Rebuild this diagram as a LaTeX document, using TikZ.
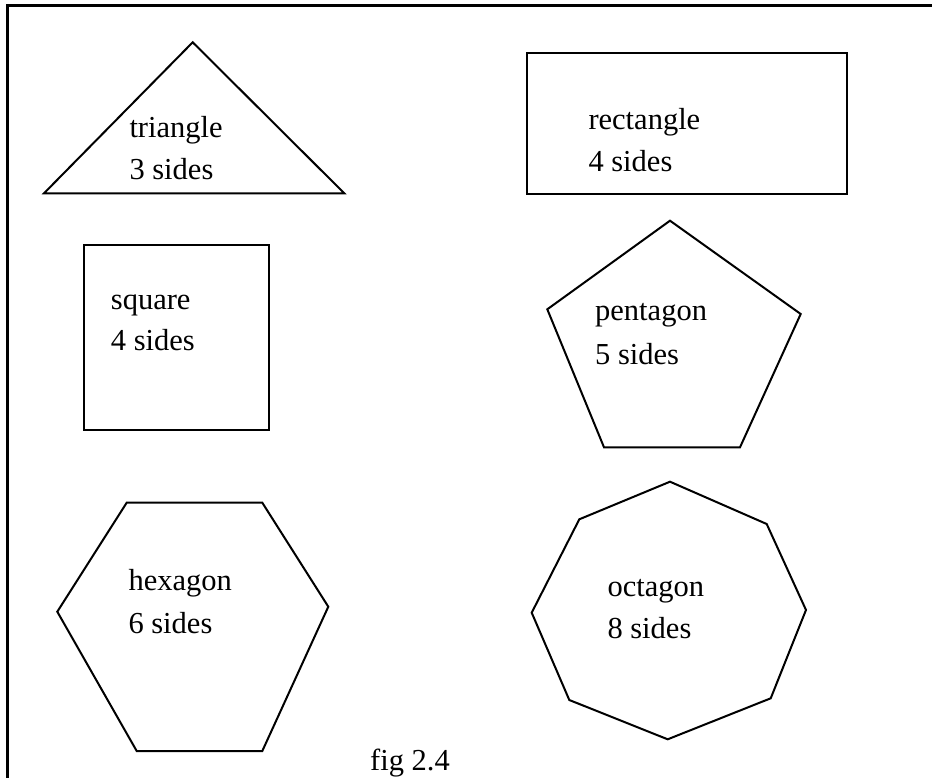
\documentclass[tikz,border=0pt]{standalone}
\usepackage{fontspec}
\setmainfont{Liberation Serif}
\begin{document}
\begin{tikzpicture}[x=1pt,y=-1pt,
  shapeline/.style={draw=black,line width=2pt,line join=miter},
  framebox/.style={draw=black,line width=3pt},
  lbl/.style={anchor=base west,inner sep=0pt,font=\fontsize{30.5}{42}\selectfont}]
\useasboundingbox (0,0) rectangle (932,778);
\clip (0,0) rectangle (932,778);
% frame
\draw[framebox] (7,6) rectangle (1000,900);
% triangle
\draw[shapeline] (192.7,42.3) -- (344.3,193.3) -- (44,193.3) -- cycle;
\node[lbl] (tri1) at (129.3,137.3) {triangle};
\node[lbl] (tri2) at (129.3,179.3) {3 sides};
% rectangle
\draw[shapeline] (527.3,53.3) rectangle (847.3,194);
\node[lbl] (rec1) at (588.3,130) {rectangle};
\node[lbl] (rec2) at (588.3,171.7) {4 sides};
% square
\draw[shapeline] (84,245) rectangle (269.3,430);
\node[lbl] (sq1) at (110.7,309) {square};
\node[lbl] (sq2) at (110.7,350.7) {4 sides};
% pentagon
\draw[shapeline] (670,220.7) -- (800.7,314) -- (740,447.3) -- (604,447.3) -- (547.3,309.3) -- cycle;
\node[lbl] (pen1) at (595,320.7) {pentagon};
\node[lbl] (pen2) at (595,364) {5 sides};
% hexagon
\draw[shapeline] (126.7,502.7) -- (262.3,502.7) -- (328.3,606.7) -- (262.3,751) -- (136.7,751) -- (57.3,611.7) -- cycle;
\node[lbl] (hex1) at (128.3,590) {hexagon};
\node[lbl] (hex2) at (128.3,633.3) {6 sides};
% octagon
\draw[shapeline] (670,481.7) -- (766.7,524) -- (806,610) -- (770.7,698.3) -- (667.7,739.3) -- (569.3,700) -- (531.7,612.7) -- (579.3,519.3) -- cycle;
\node[lbl] (oct1) at (607.3,596.7) {octagon};
\node[lbl] (oct2) at (607.3,638.3) {8 sides};
% caption
\node[lbl] (cap) at (370,770) {fig 2.4};
\end{tikzpicture}
\end{document}
